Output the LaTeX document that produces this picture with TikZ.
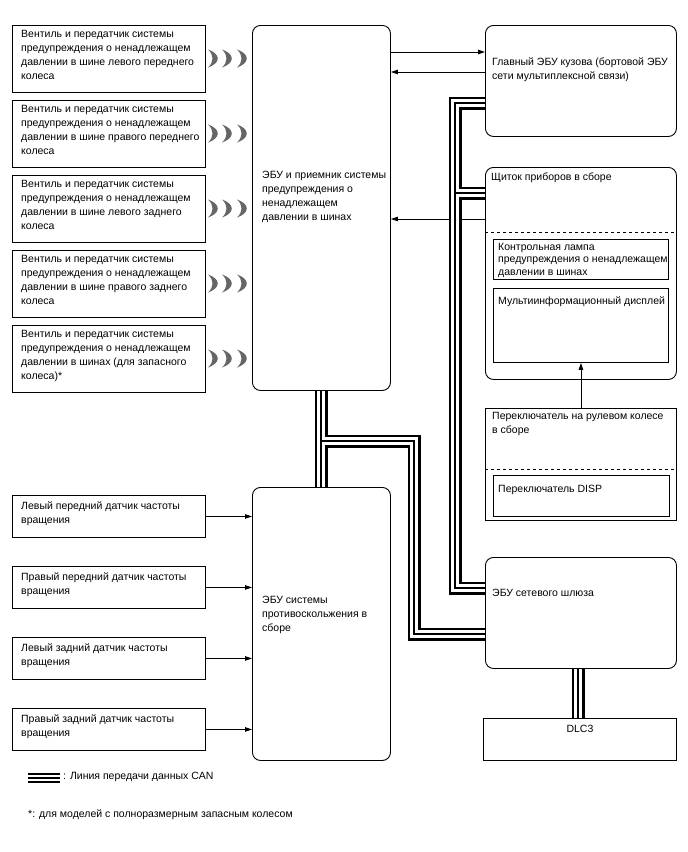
\documentclass[tikz,border=0pt]{standalone}
\usepackage{fontspec}
\setmainfont{Liberation Sans}
\usetikzlibrary{arrows.meta}

\begin{document}
\begin{tikzpicture}[x=1pt, y=-1pt,
  every node/.style={font=\fontsize{10.5}{14}\selectfont},
  box/.style={draw, line width=0.9pt, anchor=north west, inner sep=0pt},
  ecu/.style={box, rounded corners=8pt},
  txt/.style={anchor=north west, inner sep=0pt, align=left},
  sig/.style={line width=0.9pt, -{Triangle[length=7pt,width=4.5pt]}},
  wave/.style={fill=black!60}]
  \useasboundingbox (0,0) rectangle (688,852);

  % control units
  \node[ecu, minimum width=138, minimum height=365] (tpms) at (252,25) {};
  \node[txt] (tpmst) at (262,171) {ЭБУ и приемник системы\\ предупреждения о\\ ненадлежащем\\ давлении в шинах};
  \node[ecu, minimum width=138, minimum height=273] (abs) at (252,487) {};
  \node[txt] (abst) at (262,596) {ЭБУ системы\\ противоскольжения в\\ сборе};
  \node[ecu, minimum width=191, minimum height=111] (body) at (485,25) {};
  \node[txt] (bodyt) at (492,58) {Главный ЭБУ кузова (бортовой ЭБУ\\ сети мультиплексной связи)};
  \node[ecu, minimum width=191, minimum height=212] (ic) at (485,167) {};
  \node[txt] (ict) at (491,173) {Щиток приборов в сборе};
  \draw[dashed, line width=0.9pt] (ic.west |- 0,232) -- (ic.east |- 0,232);
  \node[box, minimum width=175, minimum height=40] (lamp) at (493,239) {};
  \node[txt, font=\fontsize{10.5}{12.5}\selectfont] (lampt) at (498,243) {Контрольная лампа\\ предупреждения о ненадлежащем\\ давлении в шинах};
  \node[box, minimum width=175, minimum height=74] (disp) at (493,288) {};
  \node[txt] (dispt) at (498,297) {Мультиинформационный дисплей};
  \node[box, minimum width=191, minimum height=112] (sw) at (485,408) {};
  \node[txt] (swt) at (492,412) {Переключатель на рулевом колесе\\ в сборе};
  \draw[dashed, line width=0.9pt] (sw.west |- 0,469) -- (sw.east |- 0,469);
  \node[box, minimum width=176, minimum height=41] (dsw) at (493,475) {};
  \node[txt] (dswt) at (498,485) {Переключатель DISP};
  \node[ecu, minimum width=191, minimum height=111] (gw) at (485,557) {};
  \node[txt] (gwt) at (492,589) {ЭБУ сетевого шлюза};
  \node[box, minimum width=193, minimum height=42] (dlc) at (483,718) {};
  \node[anchor=north, inner sep=0pt] (dlct) at ([shift={(0,7)}]dlc.north) {DLC3};

  % valve transmitters
  \foreach \i/\t in {0/{шине левого переднего\\ колеса}, 1/{шине правого переднего\\ колеса},
    2/{шине левого заднего\\ колеса}, 3/{шине правого заднего\\ колеса},
    4/{шинах (для запасного\\ колеса)*}} {
    \node[box, minimum width=193, minimum height=67] (v\i) at (12,{25+75*\i}) {};
    \node[txt] (vt\i) at ([shift={(9,5.5)}]v\i.north west) {Вентиль и передатчик системы\\ предупреждения о ненадлежащем\\ давлении в \t};
    \foreach \dx in {0,14,29}
      \fill[wave] ({208+\dx},{49.5+75*\i}) .. controls ({221+\dx},{54+75*\i}) and ({221+\dx},{63+75*\i}) .. ({208+\dx},{67.5+75*\i})
        .. controls ({214+\dx},{62+75*\i}) and ({214+\dx},{55+75*\i}) .. cycle;
  }

  % speed sensors
  \foreach \i/\t in {0/Левый передний, 1/Правый передний, 2/Левый задний, 3/Правый задний} {
    \node[box, minimum width=193, minimum height=42] (s\i) at (12,{495+71*\i}) {};
    \node[txt] (st\i) at ([shift={(9,6)}]s\i.north west) {\t{} датчик частоты\\ вращения};
    \draw[sig] (s\i.east) -- (s\i.east -| abs.west);
  }

  % signal lines
  \draw[sig] (tpms.east |- 0,52) -- (body.west |- 0,52);
  \draw[sig] (body.west |- 0,72) -- (tpms.east |- 0,72);
  \draw[sig] (ic.west |- 0,219) -- (tpms.east |- 0,219);
  \draw[sig] (sw.north -| disp.south) -- (disp.south);

  % CAN lines
  \foreach \lw/\lc in {13/black, 8/white, 1.6/black} {
    \draw[line width=\lw, draw=\lc] (tpms.south -| 321,0) -- (abs.north -| 321,0);
    \draw[line width=\lw, draw=\lc] (321,441) -- (414,441) -- (414,634) -- (gw.west |- 0,634);
    \draw[line width=\lw, draw=\lc] (body.west |- 0,103) -| (455,588) -- (gw.west |- 0,588);
    \draw[line width=\lw, draw=\lc] (455,193) -- (ic.west |- 0,193);
    \draw[line width=\lw, draw=\lc] (gw.south -| 578,0) -- (dlc.north -| 578,0);
  }

  % legend
  \coordinate (lg0) at (28,778);
  \coordinate (lg1) at (60,778);
  \foreach \lw/\lc in {10/black, 6/white, 2/black}
    \draw[line width=\lw, draw=\lc] (lg0) -- (lg1);
  \node[anchor=west, inner sep=0pt] (lgt) at (63,777) {: Линия передачи данных CAN};
  \node[anchor=west, inner sep=0pt] (note) at (28,815) {*: для моделей с полноразмерным запасным колесом};
\end{tikzpicture}
\end{document}
